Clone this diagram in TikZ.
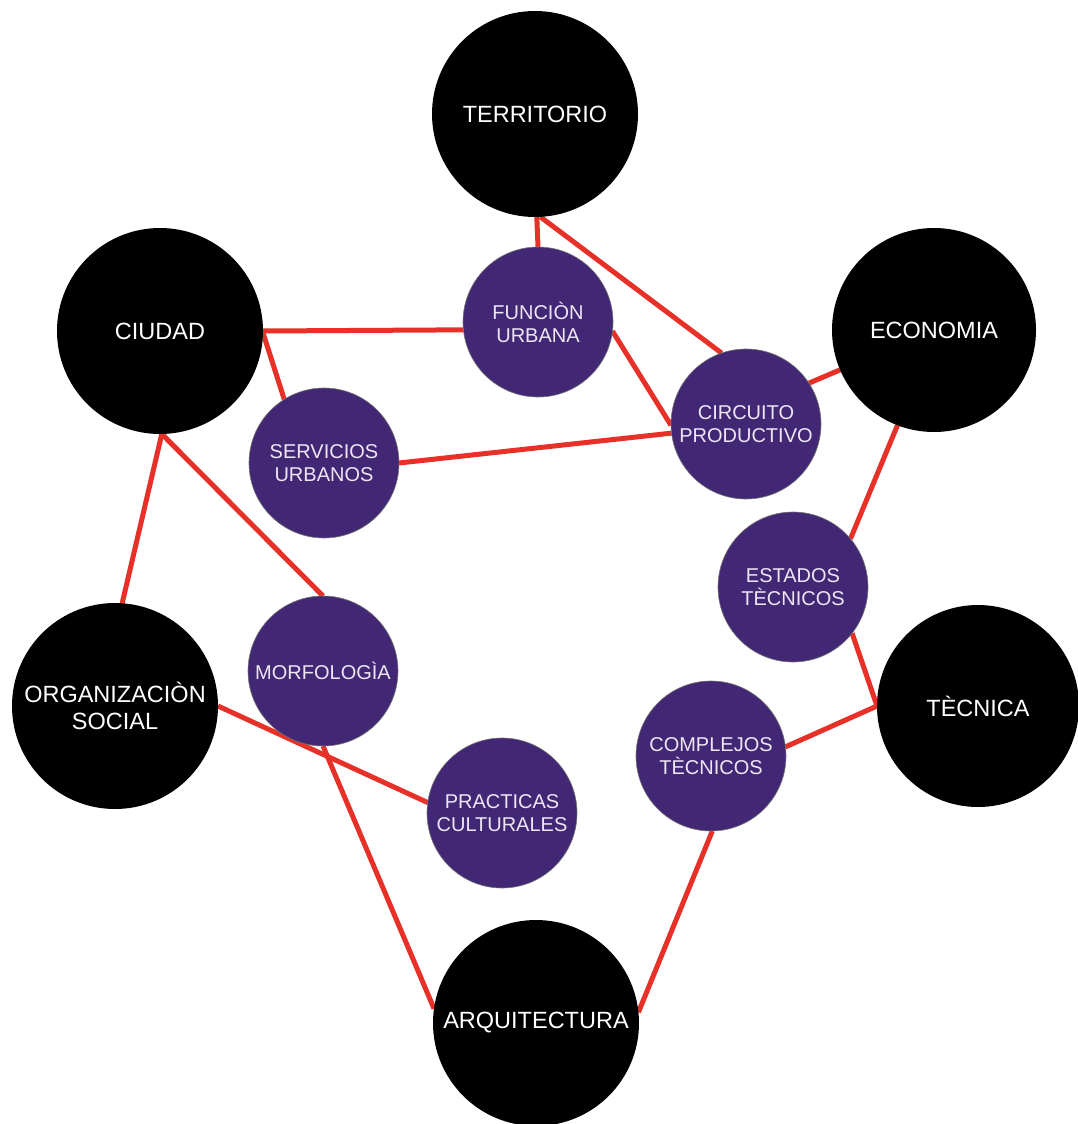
\documentclass[tikz,border=0pt]{standalone}
\usepackage{fontspec}
\setmainfont{Liberation Sans}
\definecolor{linkred}{RGB}{230,48,40}
\definecolor{nodepurple}{RGB}{66,40,116}
\definecolor{lavtext}{RGB}{236,230,245}
\pgfdeclarelayer{background}
\pgfsetlayers{background,main}
\tikzset{
  bignode/.style={circle, fill=black, minimum size=206pt, inner sep=0pt, outer sep=0pt,
    text=white, align=center, font=\fontsize{23.5}{27}\selectfont},
  smallnode/.style={circle, fill=nodepurple, draw=black!55, line width=0.6pt, minimum size=150pt,
    inner sep=0pt, outer sep=0pt, text=lavtext, align=center, font=\fontsize{20}{23}\selectfont},
  link/.style={draw=linkred, line width=5pt}
}
\begin{document}
\begin{tikzpicture}[x=1pt,y=-1pt]
\useasboundingbox (0,0) rectangle (1077,1124);
% black nodes
\node[bignode] (terr) at (535,114) {TERRITORIO};
\node[bignode] (ciud) at (160,331) {CIUDAD};
\node[bignode, minimum size=204pt] (econ) at (934,330) {ECONOMIA};
\node[bignode] (org) at (115,706) {ORGANIZACIÒN\\SOCIAL};
\node[bignode, minimum size=202pt] (tec) at (978,706) {TÈCNICA};
\node[bignode] (arq) at (536,1023) {ARQUITECTURA};
% purple nodes
\node[smallnode] (func) at (538,322) {FUNCIÒN\\URBANA};
\node[smallnode] (circ) at (746,424) {CIRCUITO\\PRODUCTIVO};
\node[smallnode] (serv) at (324,463) {SERVICIOS\\URBANOS};
\node[smallnode] (est) at (793,587) {ESTADOS\\TÈCNICOS};
\node[smallnode] (morf) at (323,671) {MORFOLOGÌA};
\node[smallnode] (comp) at (711,756) {COMPLEJOS\\TÈCNICOS};
\node[smallnode] (prac) at (502,813) {PRACTICAS\\CULTURALES};
% connectors
\begin{pgfonlayer}{background}
\fill[white] (0,0) rectangle (1077,1124);
\draw[link] (terr.271) -- (func.90);
\draw[link] (terr.273) -- (circ.109);
\draw[link] (ciud.0) -- (func.186);
\draw[link] (ciud.-1) -- (serv.122);
\draw[link] (func.353) -- (circ.181);
\draw[link] (serv.0) -- (circ.187);
\draw[link] (econ.203) -- (circ.33);
\draw[link] (econ.249) -- (est.40);
\draw[link] (est.322) -- (tec.180);
\draw[link] (tec.180) -- (comp.7);
\draw[link] (comp.271) -- (arq.6);
\draw[link] (ciud.271) -- (org.86);
\draw[link] (ciud.271) -- (morf.90);
\draw[link] (org.0) -- (prac.172);
\draw[link] (morf.270) -- (arq.172);
\end{pgfonlayer}
\end{tikzpicture}
\end{document}
